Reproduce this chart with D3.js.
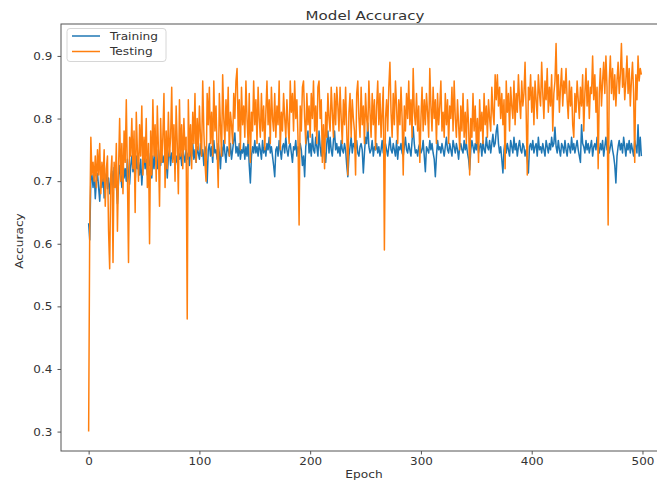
<!DOCTYPE html>
<html>
<head>
<meta charset="utf-8">
<script src="https://cdn.jsdelivr.net/npm/d3@7"></script>
<style>
  body { margin: 0; background: #fff; }
  text { font-family: "DejaVu Sans", sans-serif; fill: #333; }
</style>
</head>
<body>
<div id="chart"></div>
<script>
// accuracy per epoch
var trainAcc = [
  .633,.606,.705,.71,.69,.715,.672,.70,.712,.69,
  .668,.705,.69,.72,.673,.70,.712,.688,.705,.68,
  .70,.716,.69,.722,.708,.695,.664,.70,.725,.71,
  .69,.73,.705,.72,.70,.735,.71,.695,.725,.74,
  .715,.73,.70,.74,.72,.73,.71,.735,.694,.725,
  .74,.72,.735,.71,.745,.725,.73,.705,.74,.72,
  .745,.73,.72,.75,.735,.725,.745,.73,.74,.72,
  .735,.705,.74,.75,.725,.745,.735,.755,.72,.74,
  .73,.75,.735,.745,.725,.755,.74,.73,.75,.735,
  .745,.725,.75,.74,.76,.735,.75,.73,.755,.745,
  .735,.76,.74,.75,.725,.755,.745,.697,.75,.76,
  .74,.755,.73,.765,.745,.75,.735,.76,.745,.72,
  .755,.74,.765,.745,.73,.755,.75,.74,.76,.735,
  .75,.765,.777,.745,.755,.74,.76,.735,.75,.745,
  .76,.735,.755,.74,.765,.725,.697,.74,.755,.745,
  .765,.745,.755,.74,.76,.75,.735,.765,.745,.755,
  .74,.76,.75,.77,.745,.755,.74,.725,.707,.75,
  .755,.74,.765,.75,.735,.755,.76,.745,.77,.75,
  .74,.755,.76,.745,.73,.755,.75,.765,.74,.755,
  .745,.76,.75,.725,.74,.707,.755,.77,.78,.745,
  .76,.74,.775,.75,.745,.77,.755,.74,.78,.755,
  .74,.765,.75,.745,.73,.76,.78,.745,.77,.75,
  .74,.765,.78,.75,.76,.745,.755,.74,.765,.75,
  .745,.76,.75,.725,.707,.74,.755,.77,.745,.76,
  .755,.75,.765,.745,.74,.755,.76,.75,.713,.745,
  .77,.76,.793,.755,.745,.75,.765,.74,.755,.75,
  .76,.745,.755,.74,.75,.765,.745,.755,.76,.75,
  .74,.755,.77,.75,.745,.76,.75,.74,.765,.735,
  .755,.75,.76,.745,.74,.755,.77,.75,.745,.76,
  .75,.74,.765,.787,.76,.745,.75,.74,.755,.76,
  .745,.75,.765,.74,.715,.755,.75,.745,.765,.75,
  .76,.745,.735,.707,.74,.765,.75,.755,.745,.76,
  .75,.74,.755,.77,.75,.745,.76,.75,.74,.765,
  .755,.745,.76,.75,.735,.755,.76,.75,.745,.765,
  .75,.76,.745,.735,.718,.75,.765,.755,.745,.76,
  .75,.77,.745,.755,.76,.74,.765,.75,.745,.77,
  .755,.75,.765,.745,.76,.775,.755,.76,.78,.79,
  .76,.745,.755,.735,.713,.75,.765,.745,.76,.75,
  .74,.765,.755,.745,.77,.75,.76,.74,.755,.765,
  .75,.745,.76,.755,.74,.75,.735,.713,.755,.76,
  .75,.765,.745,.755,.76,.74,.77,.75,.755,.745,
  .76,.75,.74,.765,.755,.745,.76,.75,.77,.755,
  .76,.786,.755,.745,.765,.75,.74,.76,.755,.745,
  .765,.75,.74,.76,.755,.745,.77,.75,.76,.745,
  .755,.765,.75,.74,.73,.79,.76,.755,.745,.765,
  .75,.76,.745,.755,.765,.74,.755,.76,.75,.77,
  .755,.745,.76,.75,.765,.74,.755,.77,.75,.76,
  .745,.755,.765,.75,.74,.725,.697,.74,.755,.765,
  .75,.76,.745,.77,.755,.74,.76,.75,.765,.745,
  .76,.75,.74,.765,.755,.745,.79,.74,.77,.74
]

var testAcc = [
  .30,.63,.77,.71,.73,.70,.74,.69,.75,.71,
  .76,.68,.73,.70,.75,.66,.72,.74,.62,.56,
  .71,.74,.57,.73,.69,.76,.62,.72,.80,.70,
  .76,.68,.78,.73,.83,.71,.57,.77,.74,.80,
  .72,.78,.65,.81,.75,.70,.79,.74,.82,.71,
  .77,.73,.80,.69,.76,.60,.78,.71,.83,.74,
  .79,.70,.82,.75,.66,.80,.73,.77,.84,.69,
  .78,.72,.81,.74,.77,.85,.73,.79,.70,.82,
  .76,.68,.83,.74,.79,.72,.80,.75,.77,.48,
  .83,.74,.79,.72,.81,.76,.84,.73,.80,.75,
  .82,.77,.74,.86,.78,.73,.70,.84,.79,.85,
  .76,.81,.74,.86,.78,.82,.75,.69,.84,.79,
  .74,.87,.80,.76,.83,.78,.85,.74,.81,.79,
  .76,.84,.80,.86,.88,.78,.83,.75,.85,.79,
  .82,.77,.86,.80,.76,.84,.73,.81,.78,.86,
  .79,.83,.76,.85,.80,.77,.84,.78,.82,.75,
  .81,.86,.79,.83,.76,.85,.80,.78,.84,.77,
  .82,.79,.86,.75,.81,.78,.84,.80,.77,.83,
  .79,.76,.86,.81,.84,.78,.86,.80,.83,.77,
  .63,.82,.78,.85,.86,.80,.76,.84,.79,.82,
  .77,.84,.80,.86,.78,.82,.76,.85,.86,.80,
  .83,.73,.79,.72,.81,.77,.84,.80,.78,.85,
  .81,.77,.84,.79,.85,.82,.78,.85,.80,.76,
  .83,.79,.85,.78,.71,.81,.84,.77,.83,.80,
  .78,.71,.84,.86,.80,.77,.85,.79,.82,.76,
  .84,.80,.78,.86,.81,.77,.84,.79,.83,.75,
  .82,.86,.79,.84,.77,.81,.85,.59,.80,.83,
  .78,.85,.89,.81,.77,.84,.79,.86,.82,.76,
  .83,.79,.85,.80,.71,.82,.78,.84,.80,.86,
  .79,.83,.77,.88,.81,.79,.84,.78,.82,.73,
  .80,.85,.78,.83,.79,.84,.81,.77,.88,.82,
  .78,.85,.80,.83,.76,.84,.79,.82,.86,.78,
  .81,.77,.84,.79,.83,.76,.82,.80,.85,.78,
  .86,.80,.77,.83,.79,.75,.82,.78,.84,.77,
  .81,.76,.83,.79,.71,.80,.77,.84,.78,.82,
  .76,.80,.73,.83,.78,.81,.76,.84,.79,.82,
  .77,.83,.80,.78,.85,.81,.79,.87,.83,.87,
  .82,.85,.80,.84,.79,.83,.72,.86,.81,.84,
  .78,.85,.82,.80,.86,.79,.84,.81,.87,.83,
  .80,.86,.82,.84,.89,.81,.71,.85,.83,.87,
  .81,.85,.79,.86,.83,.80,.87,.84,.82,.89,
  .84,.80,.86,.83,.88,.81,.85,.82,.87,.78,
  .84,.86,.92,.83,.87,.81,.85,.88,.82,.86,
  .84,.88,.83,.80,.86,.82,.85,.79,.77,.84,
  .81,.86,.83,.80,.85,.82,.87,.78,.84,.88,
  .82,.86,.80,.85,.84,.90,.83,.87,.81,.85,
  .72,.84,.88,.82,.86,.89,.84,.90,.85,.63,
  .86,.90,.84,.88,.83,.87,.82,.86,.89,.84,
  .87,.92,.85,.88,.83,.86,.90,.84,.88,.82,
  .86,.89,.84,.73,.87,.83,.90,.86,.88,.87
]

var seriesNames = ["Training", "Testing"]
var seriesColors = ["#1f77b4", "#ff7f0e"]
var xTicks = [0, 100, 200, 300, 400, 500]
var yTicks = [0.3, 0.4, 0.5, 0.6, 0.7, 0.8, 0.9]

var W = 657, H = 480
// plot box (right side runs past the picture edge, like the source image)
var plotL = 61, plotT = 24, plotR = 669, plotB = 451
var stretch = "scale(1.16,1)"   // source text looks horizontally stretched

var svg = d3.select("#chart").append("svg")
  .attr("width", W)
  .attr("height", H)

var x = d3.scaleLinear().domain([-24.95, 523.95]).range([plotL, plotR])
var y = d3.scaleLinear().domain([0.269, 0.951]).range([plotB, plotT])

svg.append("clipPath").attr("id", "plotclip")
  .append("rect")
  .attr("x", plotL).attr("y", plotT)
  .attr("width", plotR - plotL).attr("height", plotB - plotT)

// lines, training first so testing sits on top
var line = d3.line()
  .x(function(d, i){ return x(i) })
  .y(function(d){ return y(d) })

var lines = svg.append("g").attr("clip-path", "url(#plotclip)")
;[trainAcc, testAcc].forEach(function(s, k){
  lines.append("path")
    .datum(s)
    .attr("fill", "none")
    .attr("stroke", seriesColors[k])
    .attr("stroke-width", 1.5)
    .attr("stroke-linejoin", "round")
    .attr("d", line)
})

// axes
var xAxis = svg.append("g")
  .attr("transform", "translate(0," + plotB + ")")
  .call(d3.axisBottom(x).tickValues(xTicks).tickSize(3.5).tickPadding(4).tickFormat(d3.format("d")))
var yAxis = svg.append("g")
  .attr("transform", "translate(" + plotL + ",0)")
  .call(d3.axisLeft(y).tickValues(yTicks).tickSize(3.5).tickPadding(4).tickFormat(d3.format(".1f")))

;[xAxis, yAxis].forEach(function(a){
  a.select(".domain").remove()
  a.selectAll("line").attr("stroke", "#555")
  a.selectAll("text")
    .attr("font-family", "DejaVu Sans")
    .attr("font-size", 10.3)
    .attr("fill", "#333")
    .attr("transform", stretch)
})
xAxis.selectAll("text").attr("dy", null).attr("y", 14)
yAxis.selectAll("text").attr("dy", "0.35em")

// spines
svg.append("rect")
  .attr("x", plotL).attr("y", plotT)
  .attr("width", plotR - plotL).attr("height", plotB - plotT)
  .attr("fill", "none")
  .attr("stroke", "#555")
  .attr("stroke-width", 1)

// title and axis labels
function addText(tx, ty, str, size, rot){
  svg.append("text")
    .attr("transform", "translate(" + tx + "," + ty + ")" + (rot ? " rotate(-90)" : "") + " " + stretch)
    .attr("text-anchor", "middle")
    .attr("font-size", size)
    .text(str)
}
addText(365, 19.5, "Model Accuracy", 13, false)
addText(364, 478, "Epoch", 10.5, false)
addText(23, 241, "Accuracy", 10.5, true)

// legend
var leg = svg.append("g").attr("transform", "translate(67,28.5)")
leg.append("rect")
  .attr("width", 99).attr("height", 33).attr("rx", 3)
  .attr("fill", "#fff").attr("fill-opacity", 0.8)
  .attr("stroke", "#d6d6d6")
seriesNames.forEach(function(n, k){
  var ly = 7.5 + k * 15.5
  leg.append("line")
    .attr("x1", 5).attr("x2", 33).attr("y1", ly).attr("y2", ly)
    .attr("stroke", seriesColors[k]).attr("stroke-width", 1.5)
  leg.append("text")
    .attr("transform", "translate(43," + (ly + 3.8) + ") " + stretch)
    .attr("font-size", 10.5)
    .text(n)
})
</script>
</body>
</html>
